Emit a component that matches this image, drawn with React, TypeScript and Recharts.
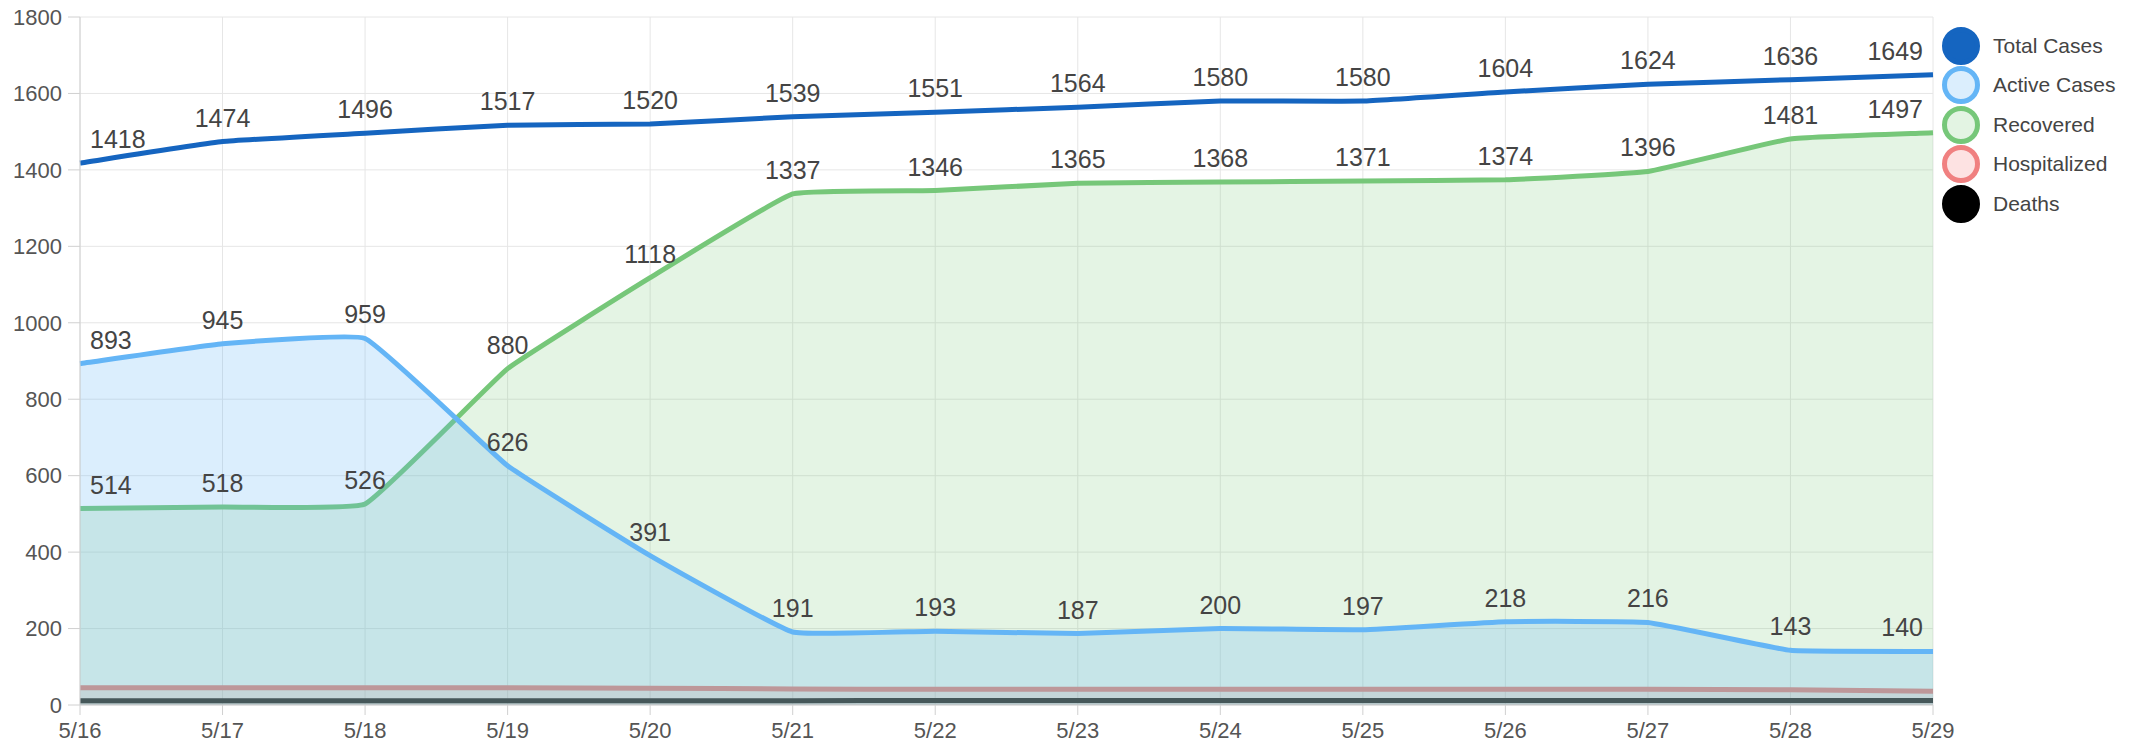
import {
  ComposedChart,
  Area,
  Line,
  XAxis,
  YAxis,
  CartesianGrid,
  LabelList,
} from 'recharts';

const days = ['5/16', '5/17', '5/18', '5/19', '5/20', '5/21', '5/22', '5/23', '5/24', '5/25', '5/26', '5/27', '5/28', '5/29'];
const totalCases = [1418, 1474, 1496, 1517, 1520, 1539, 1551, 1564, 1580, 1580, 1604, 1624, 1636, 1649];
const activeCases = [893, 945, 959, 626, 391, 191, 193, 187, 200, 197, 218, 216, 143, 140];
const recovered = [514, 518, 526, 880, 1118, 1337, 1346, 1365, 1368, 1371, 1374, 1396, 1481, 1497];
const hospitalized = [45, 45, 45, 45, 44, 42, 41, 41, 41, 41, 41, 41, 40, 36];
const deaths = [11, 11, 11, 11, 11, 11, 12, 12, 12, 12, 12, 12, 12, 12];
const yTicks = [0, 200, 400, 600, 800, 1000, 1200, 1400, 1600, 1800];
const seriesNames = ['Total Cases', 'Active Cases', 'Recovered', 'Hospitalized', 'Deaths'];

const data = days.map((day, i) => ({
  day,
  total: totalCases[i],
  active: activeCases[i],
  recovered: recovered[i],
  hospitalized: hospitalized[i],
  deaths: deaths[i],
}));

const FONT = '"Liberation Sans", Arial, Helvetica, sans-serif';
const PLOT_LEFT = 80;
const PLOT_RIGHT = 1933;

// legend swatch look, same order as seriesNames
const swatches = [
  { fill: '#1565c0', stroke: '#1565c0' },
  { fill: '#dbeefd', stroke: '#64b5f6' },
  { fill: '#e3f4e3', stroke: '#76c779' },
  { fill: '#fde2e2', stroke: '#f08080' },
  { fill: '#000', stroke: '#000' },
];

// light bezier smoothing, like a line chart with a small tension
function tensionCurve(t: number) {
  return (ctx: any) => {
    let xs: number[] = [];
    let ys: number[] = [];
    let line = NaN;
    return {
      areaStart() { line = 0; },
      areaEnd() { line = NaN; },
      lineStart() { xs = []; ys = []; },
      point(x: number, y: number) { xs.push(+x); ys.push(+y); },
      lineEnd() {
        const n = xs.length;
        if (n) {
          if (line) ctx.lineTo(xs[0], ys[0]);
          else ctx.moveTo(xs[0], ys[0]);
          const cps = xs.map((x, i) => {
            const pi = Math.max(i - 1, 0);
            const ni = Math.min(i + 1, n - 1);
            const d01 = Math.hypot(x - xs[pi], ys[i] - ys[pi]);
            const d12 = Math.hypot(xs[ni] - x, ys[ni] - ys[i]);
            const sum = d01 + d12 || 1;
            const fa = (t * d01) / sum;
            const fb = (t * d12) / sum;
            const dx = xs[ni] - xs[pi];
            const dy = ys[ni] - ys[pi];
            return { px: x - fa * dx, py: ys[i] - fa * dy, nx: x + fb * dx, ny: ys[i] + fb * dy };
          });
          for (let i = 0; i < n - 1; i++) {
            ctx.bezierCurveTo(cps[i].nx, cps[i].ny, cps[i + 1].px, cps[i + 1].py, xs[i + 1], ys[i + 1]);
          }
        }
        if (line || (line !== 0 && n === 1)) ctx.closePath();
        line = 1 - line;
      },
    };
  };
}

const curve = tensionCurve(0.1) as any;

function PointLabel(props: any) {
  const { x, y, value } = props;
  const text = String(value);
  const w = text.length * 13.9;
  let cx = Math.max(x, PLOT_LEFT + 10 + w / 2);
  cx = Math.min(cx, PLOT_RIGHT - 10 - w / 2);
  return (
    <text x={cx} y={y - 15} textAnchor="middle" fontSize={25} fill="#444" fontFamily={FONT}>
      {text}
    </text>
  );
}

function LegendBox() {
  return (
    <div style={{ position: 'absolute', left: 1942, top: 26, fontFamily: FONT }}>
      {seriesNames.map((name, i) => (
        <div key={name} style={{ display: 'flex', alignItems: 'center', height: 39.5 }}>
          <div
            style={{
              width: 28,
              height: 28,
              borderRadius: '50%',
              background: swatches[i].fill,
              border: `5px solid ${swatches[i].stroke}`,
            }}
          />
          <span style={{ marginLeft: 13, fontSize: 21, color: '#444' }}>{name}</span>
        </div>
      ))}
    </div>
  );
}

export default function App() {
  return (
    <div style={{ position: 'absolute', left: 0, top: 0, width: 2145, height: 745, background: '#fff' }}>
      <ComposedChart
        width={2145}
        height={745}
        data={data}
        margin={{ top: 17, right: 212, bottom: 0, left: 0 }}
      >
        <CartesianGrid stroke="#e6e6e6" />
        <XAxis
          dataKey="day"
          scale="point"
          padding={{ left: 0, right: 0 }}
          height={40}
          interval={0}
          tickSize={10}
          tickMargin={7}
          stroke="#d0d0d0"
          tick={{ fill: '#555', fontSize: 22, fontFamily: FONT }}
        />
        <YAxis
          width={80}
          domain={[0, 1800]}
          ticks={yTicks}
          interval={0}
          tickSize={12}
          tickMargin={6}
          stroke="#d0d0d0"
          tick={{ fill: '#555', fontSize: 22, fontFamily: FONT }}
        />
        <Area
          type={curve}
          dataKey="deaths"
          name="Deaths"
          stroke="#000"
          strokeWidth={5}
          fill="#000"
          fillOpacity={0.12}
          dot={false}
          activeDot={false}
          isAnimationActive={false}
        />
        <Area
          type={curve}
          dataKey="hospitalized"
          name="Hospitalized"
          stroke="#f08080"
          strokeWidth={5}
          fill="#f08080"
          fillOpacity={0.2}
          dot={false}
          activeDot={false}
          isAnimationActive={false}
        />
        <Area
          type={curve}
          dataKey="recovered"
          name="Recovered"
          stroke="#76c779"
          strokeWidth={5}
          fill="#76c779"
          fillOpacity={0.2}
          dot={false}
          activeDot={false}
          isAnimationActive={false}
        >
          <LabelList dataKey="recovered" content={PointLabel} />
        </Area>
        <Area
          type={curve}
          dataKey="active"
          name="Active Cases"
          stroke="#64b5f6"
          strokeWidth={5}
          fill="#64b5f6"
          fillOpacity={0.23}
          dot={false}
          activeDot={false}
          isAnimationActive={false}
        >
          <LabelList dataKey="active" content={PointLabel} />
        </Area>
        <Line
          type={curve}
          dataKey="total"
          name="Total Cases"
          stroke="#1565c0"
          strokeWidth={5}
          dot={false}
          activeDot={false}
          isAnimationActive={false}
        >
          <LabelList dataKey="total" content={PointLabel} />
        </Line>
      </ComposedChart>
      <LegendBox />
    </div>
  );
}
